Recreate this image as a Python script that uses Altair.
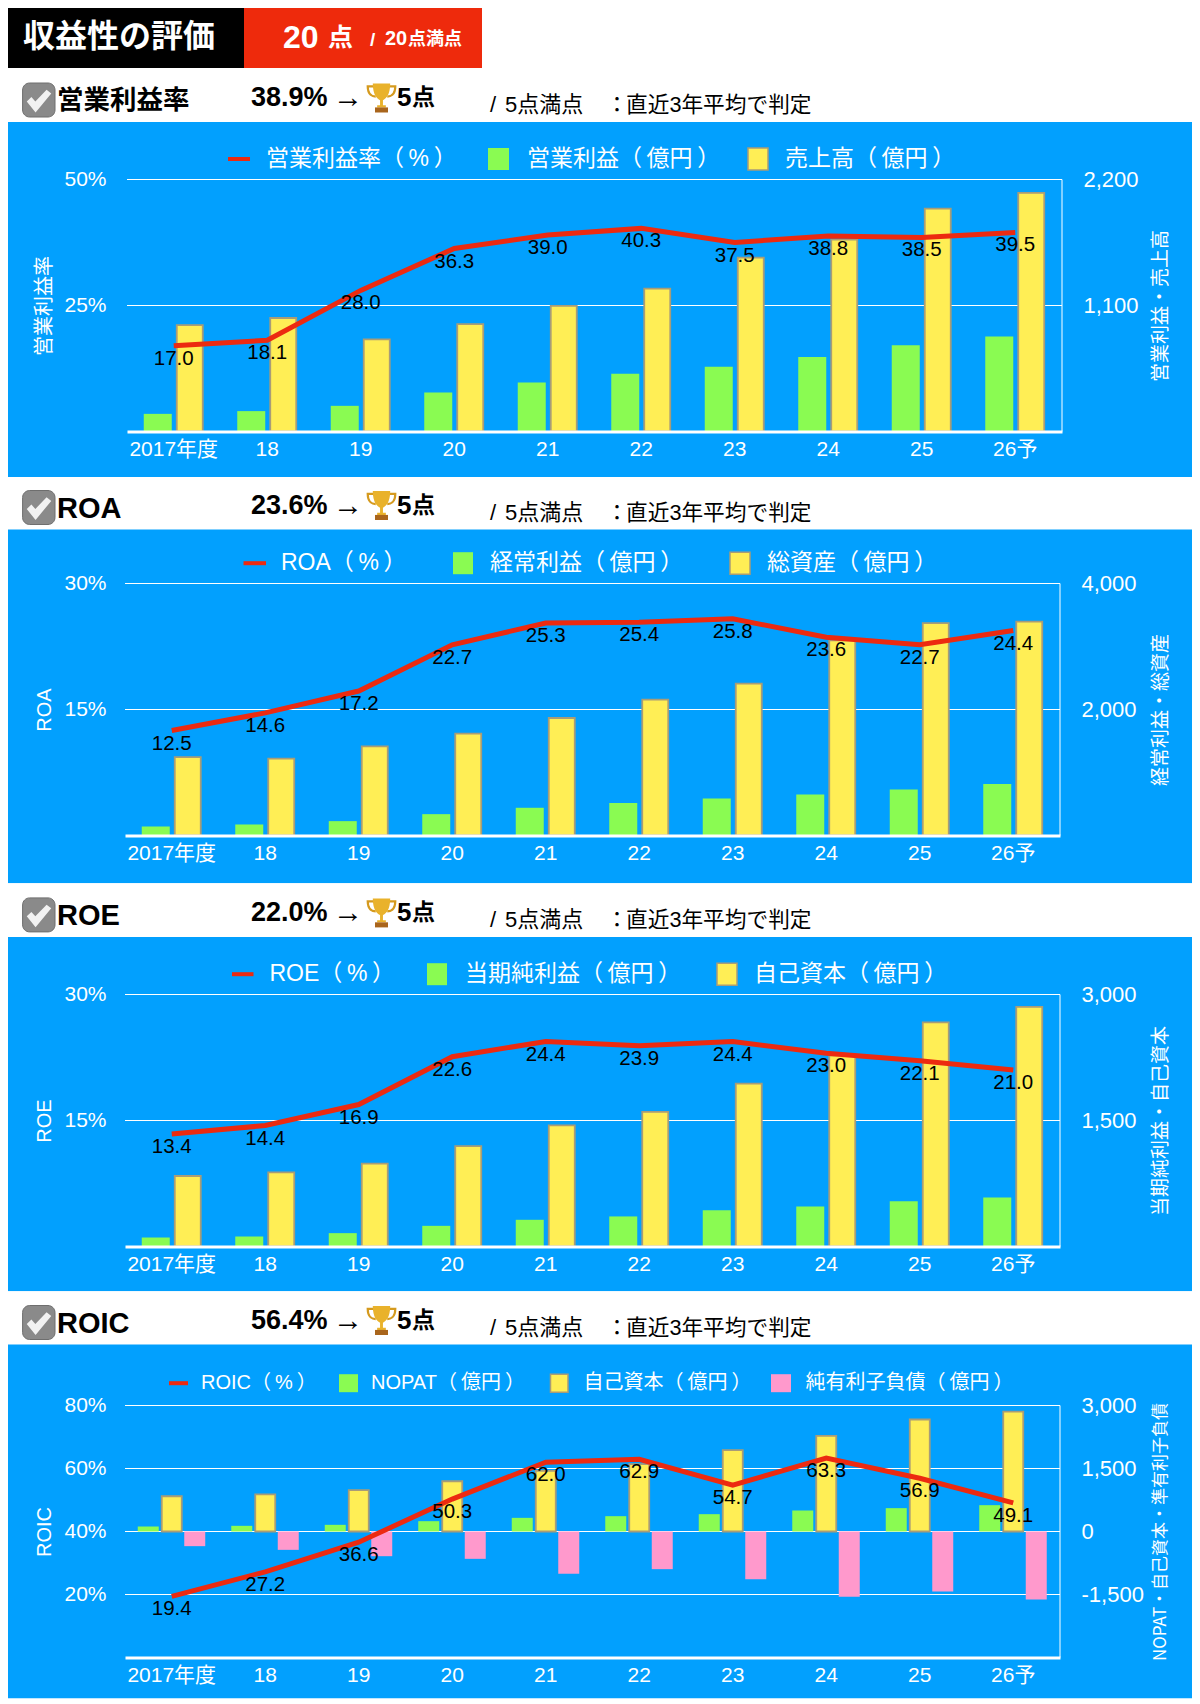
import altair as alt
import pandas as pd

FONT = "Liberation Sans, Noto Sans CJK JP"
CJK = "Noto Sans CJK JP"
BLUE = "#02A0FE"
RED = "#EC2A10"
GREEN = "#8AFB52"
YELLOW = "#FFEE55"
PINK = "#FF99CC"
EDGE = "#A89C78"

years = ["2017年度", "18", "19", "20", "21", "22", "23", "24", "25", "26予"]

opm = [17.0, 18.1, 28.0, 36.3, 39.0, 40.3, 37.5, 38.8, 38.5, 39.5]
op_profit = [154, 178, 224, 341, 428, 504, 565, 650, 752, 830]
sales = [929, 991, 804, 938, 1096, 1247, 1518, 1675, 1946, 2083]

roa = [12.5, 14.6, 17.2, 22.7, 25.3, 25.4, 25.8, 23.6, 22.7, 24.4]
ord_profit = [143, 175, 228, 339, 440, 514, 588, 652, 731, 816]
assets = [1245, 1219, 1415, 1616, 1865, 2156, 2411, 3099, 3370, 3396]

roe = [13.4, 14.4, 16.9, 22.6, 24.4, 23.9, 24.4, 23.0, 22.1, 21.0]
net_profit = [107, 119, 159, 246, 318, 358, 433, 477, 540, 584]
equity = [839, 882, 986, 1196, 1443, 1602, 1939, 2277, 2667, 2853]

roic = [19.4, 27.2, 36.6, 50.3, 62.0, 62.9, 54.7, 63.3, 56.9, 49.1]
nopat = [119, 135, 159, 246, 325, 365, 413, 500, 556, 627]
net_debt = [-349, -437, -588, -651, -1008, -897, -1135, -1556, -1429, -1620]

PANELS = [
    dict(name="営業利益率", score="38.9%", cell=(6, 477), blue=(122, 477), top=179.5, left=127,
         line=opm, ldom=[0, 50], lticks=[25, 50], rdom=[0, 2200], rticks=[1100, 2200],
         ltitle="営業利益率", rtitle="営業利益・売上高", rsize=19,
         bars=[(op_profit, GREEN, 28, -16, None), (sales, YELLOW, 26, 16, EDGE)],
         legend_y=159, fs=23,
         legend=[("line", 228, 250, 266, "営業利益率（\u2009%\u2009）"), (GREEN, 488, 509, 527, "営業利益（\u2009億円\u2009）"),
                 (YELLOW, 748, 768, 785, "売上高（\u2009億円\u2009）")]),
    dict(name="ROA", score="23.6%", cell=(477, 883), blue=(529.3, 883), top=583.3, left=125,
         line=roa, ldom=[0, 30], lticks=[15, 30], rdom=[0, 4000], rticks=[2000, 4000],
         ltitle="ROA", rtitle="経常利益・総資産", rsize=19,
         bars=[(ord_profit, GREEN, 28, -16, None), (assets, YELLOW, 26, 16, EDGE)],
         legend_y=563, fs=23,
         legend=[("line", 243.5, 266, 281, "ROA（\u2009%\u2009）"), (GREEN, 453, 473, 490, "経常利益（\u2009億円\u2009）"),
                 (YELLOW, 730, 750, 767, "総資産（\u2009億円\u2009）")]),
    dict(name="ROE", score="22.0%", cell=(883, 1291), blue=(936.7, 1291), top=994.3, left=125,
         line=roe, ldom=[0, 30], lticks=[15, 30], rdom=[0, 3000], rticks=[1500, 3000],
         ltitle="ROE", rtitle="当期純利益・自己資本", rsize=19,
         bars=[(net_profit, GREEN, 28, -16, None), (equity, YELLOW, 26, 16, EDGE)],
         legend_y=974, fs=23,
         legend=[("line", 232, 253.5, 269.5, "ROE（\u2009%\u2009）"), (GREEN, 427, 447, 465, "当期純利益（\u2009億円\u2009）"),
                 (YELLOW, 717, 737, 754, "自己資本（\u2009億円\u2009）")]),
    dict(name="ROIC", score="56.4%", cell=(1291, 1698), blue=(1344.3, 1698), top=1405.3, left=125,
         line=roic, ldom=[0, 80], lticks=[20, 40, 60, 80], rdom=[-3000, 3000], rticks=[-1500, 0, 1500, 3000],
         ltitle="ROIC", rtitle="NOPAT・自己資本・準有利子負債", rsize=17,
         bars=[(nopat, GREEN, 21, -23.5, None), (equity, YELLOW, 20, 0, EDGE), (net_debt, PINK, 21, 23, None)],
         legend_y=1383, fs=20,
         legend=[("line", 169, 188, 201, "ROIC（\u2009%\u2009）"), (GREEN, 339, 358, 371, "NOPAT（\u2009億円\u2009）"),
                 (YELLOW, 550.5, 568, 583.5, "自己資本（\u2009億円\u2009）"), (PINK, 771, 791, 805.5, "純有利子負債（\u2009億円\u2009）")]),
]

ORIGIN_X = 125
PLOT_W = 937
PLOT_H = 252
BAND_W = 935
ONE = alt.Data(values=[{"k": 1}])
CUP = "M-0.6,-1 H0.6 C0.6,-0.2 0.3,0.05 0.1,0.15 V0.5 H0.3 V0.65 H-0.3 V0.5 H-0.1 V0.15 C-0.3,0.05 -0.6,-0.2 -0.6,-1 Z"
BASE = "M-0.45,0.65 H0.45 V1 H-0.45 Z"
HANDLES = "M-0.55,-0.8 H-0.95 C-0.95,-0.2 -0.6,-0.1 -0.4,-0.1 M0.55,-0.8 H0.95 C0.95,-0.2 0.6,-0.1 0.4,-0.1"
CHECK = "M-1,-0.05 L-0.62,-0.4 L-0.3,-0.05 L0.62,-1 L1,-0.7 L-0.28,0.85 Z"


def panel_chart(p, first):
    top = p["top"]

    def ax(v):
        return v - ORIGIN_X

    def ay(v):
        return v - top

    def rect(x0, x1, y0, y1, color, **kw):
        return alt.Chart(ONE).mark_rect(color=color, **kw).encode(
            x=alt.value(ax(x0)), x2=alt.value(ax(x1)), y=alt.value(ay(y0)), y2=alt.value(ay(y1)))

    def text(s, x, y, size, color="black", weight="normal", font=FONT, align="left"):
        return alt.Chart(ONE).mark_text(
            align=align, baseline="middle", fontSize=size, color=color, fontWeight=weight, font=font
        ).encode(x=alt.value(ax(x)), y=alt.value(ay(y)), text=alt.value(s))

    def icon(shape, x, y, size, color, filled=True, sw=0):
        return alt.Chart(ONE).mark_point(
            shape=shape, filled=filled, size=size, opacity=1,
            color=color, strokeWidth=sw
        ).encode(x=alt.value(ax(x)), y=alt.value(ay(y)))

    shift = p["left"] - ORIGIN_X
    right = shift + BAND_W
    df = pd.DataFrame({"year": years, "v": p["line"]})
    xenc = alt.X("year:N", sort=years,
                 scale=alt.Scale(type="band", domain=years, range=[shift, right], paddingInner=0, paddingOuter=0),
                 axis=alt.Axis(title=None, labelAngle=0, labelFont=FONT, labelFontSize=21, labelColor="white",
                               labelPadding=7, labelBaseline="top", ticks=False, domainColor="white", domainWidth=3,
                               grid=False, zindex=1, labelOverlap=False))
    lscale = alt.Scale(domain=p["ldom"])
    rscale = alt.Scale(domain=p["rdom"])

    blue_top, blue_bottom = p["blue"]
    cell_top, cell_bottom = p["cell"]
    layers = [rect(6, 1195, cell_top, cell_bottom, "white"), rect(6, 1195, blue_top, blue_bottom, BLUE)]

    if first:
        layers += [
            rect(6, 244, 6, 68, "black"), rect(244, 482, 6, 68, "#EE2A0C"),
            text("収益性の評価", 23, 37, 32, "white", "bold", CJK),
            text("20", 283, 38, 32, "white", "bold"),
            text("点", 328, 38, 25, "white", "bold", CJK),
            text("/", 370, 40, 19, "white", "bold"),
            text("20", 385, 39, 20, "white", "bold"),
            text("点満点", 408, 40, 18, "white", "bold", CJK),
        ]

    head = blue_top - 21
    latin = p["name"].isascii()
    layers += [
        rect(22.6, 55, blue_top - 39, blue_top - 5, "#8A8A8A", cornerRadius=7, stroke="#6E6E6E", strokeWidth=1),
        icon(CHECK, 39, head + 1, 600, "#F2F2F2"),
        text(p["name"], 57, head, 29 if latin else 26.5, "black", "bold", FONT if latin else CJK),
        text(p["score"], 251, head - 3, 27, "black", "bold"),
        text("→", 333, head - 3, 30, "black", "normal", "Liberation Sans"),
        icon(HANDLES, 381.5, head - 3, 841, "#D59A1E", False, 2.2),
        icon(CUP, 381.5, head - 3, 841, "#E9B22B"),
        icon(BASE, 381.5, head - 3, 841, "#A9651C"),
        text("5", 397, head - 3, 26, "black", "bold"),
        text("点", 412, head - 3, 23, "black", "bold", CJK),
        text("/", 490, head + 4, 22, "black"),
        text("5点満点", 505, head + 4, 22, "black", "normal", FONT),
        text("：", 606, head + 4, 22, "black", "normal", CJK),
        text("直近3年平均で判定", 626, head + 4, 21.7, "black", "normal", FONT),
    ]

    # white horizontal grid lines and right border behind the bars
    layers.append(alt.Chart(pd.DataFrame({"t": p["rticks"]})).mark_rule(color="white", strokeWidth=1).encode(
        x=alt.value(shift), x2=alt.value(right), y=alt.Y("t:Q", scale=rscale, axis=None)))
    layers.append(alt.Chart(ONE).mark_rule(color="white", strokeWidth=1).encode(
        x=alt.value(right), y=alt.value(0), y2=alt.value(PLOT_H)))

    for i, (vals, color, w, off, edge) in enumerate(p["bars"]):
        kw = dict(stroke=edge, strokeWidth=1.8) if edge else {}
        axis = alt.Axis(orient="right", values=p["rticks"], title=p["rtitle"], ticks=False, domain=False,
                        labelExpr="replace(format(datum.value, ',d'), '\u2212', '-')",
                        grid=False, labelColor="white", labelFont=FONT, labelFontSize=22,
                        labelPadding=21 if shift else 19,
                        titleColor="white", titleFont=CJK, titleFontSize=p["rsize"], titleFontWeight="normal",
                        titleAngle=270, titleBaseline="middle", titleAlign="center",
                        titleX=98, titleY=PLOT_H / 2, zindex=1) if i == 0 else None
        layers.append(alt.Chart(pd.DataFrame({"year": years, "v": vals})).mark_bar(
            color=color, width=w, xOffset=off, **kw).encode(
            x=xenc, y=alt.Y("v:Q", scale=rscale, axis=axis)))

    lax = alt.Axis(values=p["lticks"], labelExpr="datum.value + '%'", title=p["ltitle"], ticks=False, domain=False,
                   grid=False, labelColor="white", labelFont=FONT, labelFontSize=21, labelPadding=19,
                   titleColor="white", titleFont=FONT, titleFontSize=20, titleFontWeight="normal",
                   titleAngle=270, titleBaseline="middle", titleAlign="center",
                   titleX=-81, titleY=PLOT_H / 2, zindex=1)
    layers.append(alt.Chart(df).mark_line(color=RED, strokeWidth=5).encode(
        x=xenc, y=alt.Y("v:Q", scale=lscale, axis=lax)))
    layers.append(alt.Chart(df).mark_text(dy=13, fontSize=20.5, font=FONT, color="black", baseline="middle").encode(
        x=xenc, y=alt.Y("v:Q", scale=lscale, axis=None), text=alt.Text("v:Q", format=".1f")))

    ly = p["legend_y"]
    fs = p["fs"]
    for kind, x0, x1, tx, label in p["legend"]:
        if kind == "line":
            layers.append(rect(x0, x1, ly - 2, ly + 2, RED))
        else:
            hh = 11 if fs == 23 else 9
            layers.append(rect(x0, x1, ly - hh, ly + hh, kind,
                               **(dict(stroke=EDGE, strokeWidth=1.5) if kind == YELLOW else {})))
        layers.append(text(label, tx, ly, fs, "white", "normal", FONT))

    return alt.layer(*layers).resolve_scale(y="independent").properties(width=PLOT_W, height=PLOT_H)


chart = alt.vconcat(*[panel_chart(p, i == 0) for i, p in enumerate(PANELS)], spacing=-1).properties(
    padding={"left": -2, "top": -2.5, "right": -3, "bottom": 0}
).configure_view(stroke=None)

chart.save("out.html", embed_options={"renderer": "svg", "actions": False})
